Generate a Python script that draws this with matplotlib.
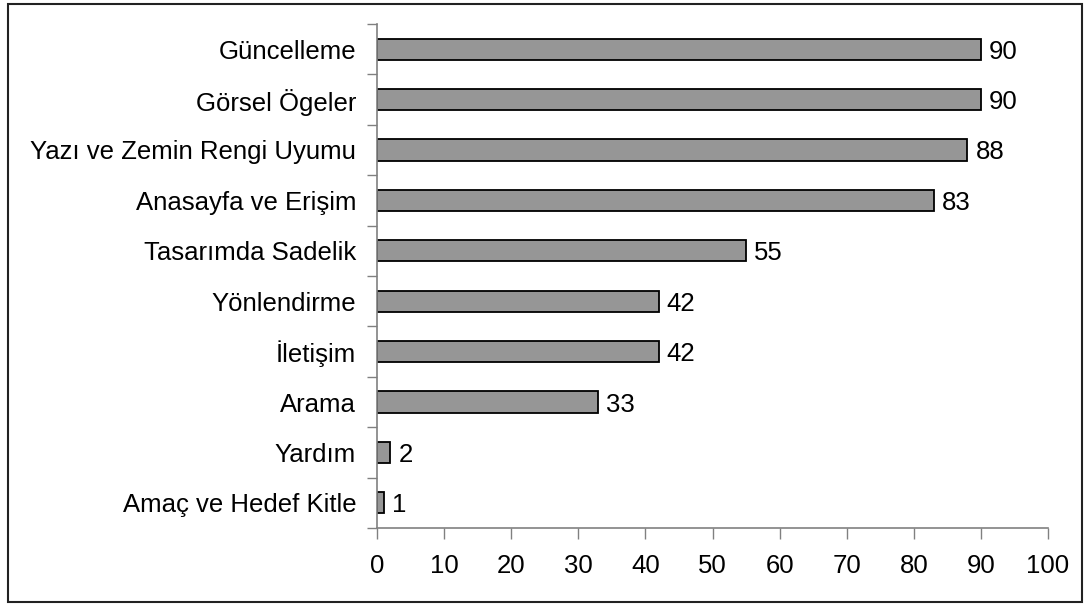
import matplotlib
matplotlib.use("Agg")
from matplotlib import pyplot as plt
from matplotlib.patches import Rectangle

# kategoriler (alttan uste dogru)
kategoriler = ["Amaç ve Hedef Kitle", "Yardım", "Arama", "İletişim", "Yönlendirme",
               "Tasarımda Sadelik", "Anasayfa ve Erişim", "Yazı ve Zemin Rengi Uyumu",
               "Görsel Ögeler", "Güncelleme"]
degerler = [1, 2, 33, 42, 42, 55, 83, 88, 90, 90]
x_ticks = [0, 10, 20, 30, 40, 50, 60, 70, 80, 90, 100]

plt.rcParams['font.family'] = ['Liberation Sans', 'DejaVu Sans']
yazi_boyu = 18.5

fig = plt.figure(figsize=(10.9, 6.07), dpi=100)
ax = fig.add_axes([377/1090, 1 - 528/607, (1048 - 377)/1090, (528 - 24)/607])

pozisyon = list(range(len(kategoriler)))
ax.barh(pozisyon, degerler, height=0.42, color='#969696', edgecolor='black', linewidth=1.3)

for y, v in zip(pozisyon, degerler):
    ax.text(v + 1.2, y, str(v), va='center_baseline', ha='left', fontsize=yazi_boyu)

ax.set_xlim(0, 100)
ax.set_ylim(-0.5, len(kategoriler) - 0.5)
ax.set_xticks(x_ticks)
ax.set_xticklabels([str(t) for t in x_ticks], fontsize=yazi_boyu)

# kategori isimleri ortada, tik cizgileri aralarda
ax.set_yticks(pozisyon)
ax.set_yticklabels(kategoriler, fontsize=yazi_boyu, va='center_baseline')
ax.tick_params(axis='y', which='major', length=0, pad=15)
ax.set_yticks([p - 0.5 for p in pozisyon] + [len(kategoriler) - 0.5], minor=True)
ax.tick_params(axis='y', which='minor', length=7, color='#808080', width=1)
ax.tick_params(axis='x', length=8, color='#808080', width=1, pad=11)

for s in ['top', 'right']:
    ax.spines[s].set_visible(False)
for s in ['left', 'bottom']:
    ax.spines[s].set_color('#808080')
    ax.spines[s].set_linewidth(1.2)

# dis cerceve
fig.patches.append(Rectangle((8/1090, 5/607), (1082 - 8)/1090, (603 - 5)/607,
                             transform=fig.transFigure, fill=False,
                             edgecolor='#222222', linewidth=1.5))

fig.savefig("out.png", dpi=100)
